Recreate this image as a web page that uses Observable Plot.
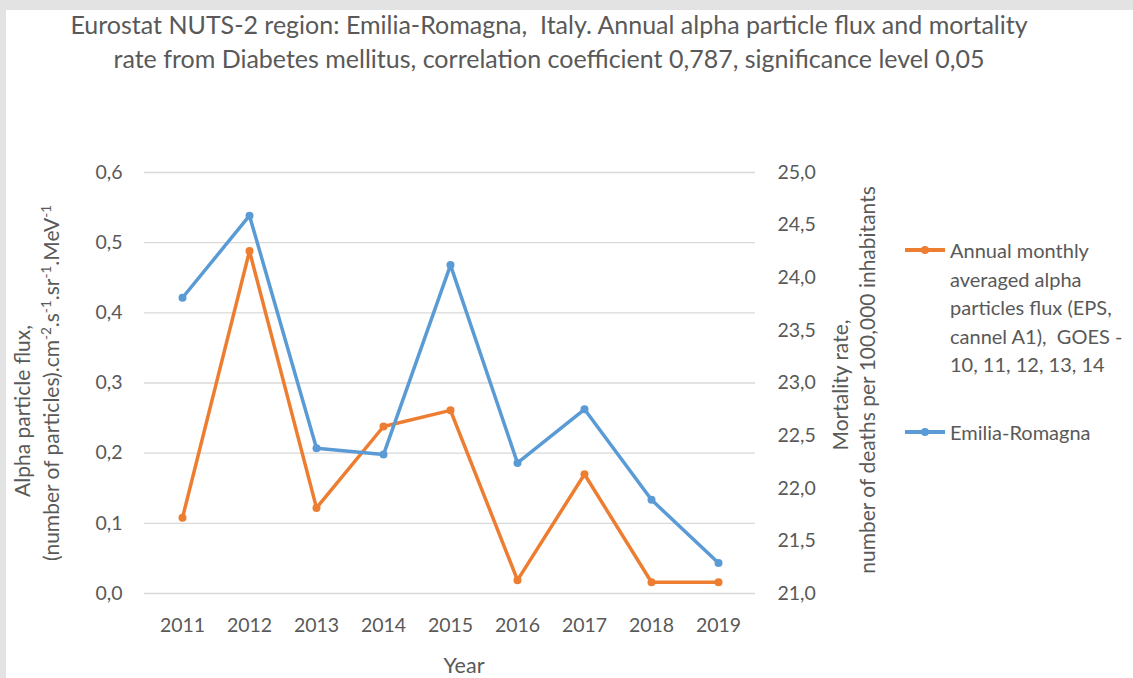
<!DOCTYPE html>
<html><head><meta charset="utf-8">
<script src="https://cdn.jsdelivr.net/npm/d3@7"></script>
<script src="https://cdn.jsdelivr.net/npm/@observablehq/plot@0.6"></script>
<style>
body{margin:0;background:#e3e3e3;width:1133px;height:678px;overflow:hidden;font-family:Lato,"Open Sans",sans-serif;color:#595959;position:relative}
#frame{position:absolute;left:6px;top:10px;width:1127px;height:668px;background:#fff}
.abs{position:absolute;white-space:nowrap}
.title{font-size:25px;transform:translate(-50%,-50%);}
.ax{font-size:21px;transform:translate(-50%,-50%) rotate(-90deg);}
.ax sup{font-size:13.5px;vertical-align:0.55em;line-height:0}
.leg{font-size:20px;line-height:28.6px;left:950px}
.sw{position:absolute;left:905px;width:40px;height:3.5px}
.sw i{position:absolute;left:16px;top:-2.5px;width:8px;height:8px;border-radius:50%}
</style></head>
<body>
<div id="frame"></div>
<div class="abs title" style="left:549px;top:24px">Eurostat NUTS-2 region: Emilia-Romagna,&nbsp; Italy. Annual alpha particle flux and mortality</div>
<div class="abs title" style="left:549px;top:58px">rate from Diabetes mellitus, correlation coefficient 0,787, significance level 0,05</div>
<div class="abs ax" style="left:21px;top:411px">Alpha particle flux,</div>
<div class="abs ax" style="left:50px;top:383px">(number of particles).cm<sup>-2</sup>.s<sup>-1</sup>.sr<sup>-1</sup>.MeV<sup>-1</sup></div>
<div class="abs ax" style="left:839px;top:385px">Mortality rate,</div>
<div class="abs ax" style="left:866px;top:380px">number of deaths per 100,000 inhabitants</div>
<div class="abs" style="left:464px;top:665px;font-size:21.5px;transform:translate(-50%,-50%)">Year</div>
<div class="sw" style="top:248px;background:#ED7D31"><i style="background:#ED7D31"></i></div>
<div class="abs leg" style="top:236px">Annual monthly<br>averaged alpha<br>particles flux (EPS,<br>cannel A1),&nbsp; GOES -<br>10, 11, 12, 13, 14</div>
<div class="sw" style="top:430px;background:#5B9BD5"><i style="background:#5B9BD5"></i></div>
<div class="abs leg" style="top:418px">Emilia-Romagna</div>
<script>
const years = [2011, 2012, 2013, 2014, 2015, 2016, 2017, 2018, 2019];
const alphaFlux = [0.108, 0.488, 0.122, 0.238, 0.261, 0.019, 0.170, 0.016, 0.016];
const mortality = [23.81, 24.59, 22.38, 22.32, 24.12, 22.24, 22.75, 21.89, 21.29];
const leftTicks = [0, 0.1, 0.2, 0.3, 0.4, 0.5, 0.6];
const rightTicks = [21, 21.5, 22, 22.5, 23, 23.5, 24, 24.5, 25];
const leftDomain = [0, 0.6];
const rightDomain = [21, 25];

const toLeft = v => (v - rightDomain[0]) / (rightDomain[1] - rightDomain[0]) * (leftDomain[1] - leftDomain[0]) + leftDomain[0];
const toRight = t => (t - leftDomain[0]) / (leftDomain[1] - leftDomain[0]) * (rightDomain[1] - rightDomain[0]) + rightDomain[0];
const fmt = v => d3.format(".1f")(v).replace(".", ",");

const flux = years.map((y, i) => ({year: y, v: alphaFlux[i]}));
const mort = years.map((y, i) => ({year: y, v: toLeft(mortality[i])}));

const chart = Plot.plot({
  width: 1127, height: 668,
  marginLeft: 138, marginRight: 378, marginTop: 162, marginBottom: 85,
  style: {fontFamily: "Lato, 'Open Sans', sans-serif", fontSize: "19.5px", color: "#595959", background: "transparent"},
  x: {type: "point", domain: years, padding: 0.5},
  y: {domain: leftDomain},
  marks: [
    Plot.gridY(leftTicks, {stroke: "#d9d9d9", strokeOpacity: 1, strokeWidth: 1.3}),
    Plot.axisY(leftTicks, {anchor: "left", tickSize: 0, tickPadding: 22, tickFormat: fmt, label: null}),
    Plot.axisY(rightTicks.map(toLeft), {anchor: "right", tickSize: 0, tickPadding: 22, tickFormat: t => fmt(toRight(t)), label: null}),
    Plot.axisX(years, {anchor: "bottom", tickSize: 0, tickPadding: 25, tickFormat: d => String(d), label: null}),
    Plot.lineY(flux, {x: "year", y: "v", stroke: "#ED7D31", strokeWidth: 3.5}),
    Plot.dot(flux, {x: "year", y: "v", fill: "#ED7D31", r: 4}),
    Plot.lineY(mort, {x: "year", y: "v", stroke: "#5B9BD5", strokeWidth: 3.5}),
    Plot.dot(mort, {x: "year", y: "v", fill: "#5B9BD5", r: 4})
  ]
});
document.getElementById("frame").appendChild(chart);
</script>
</body></html>
